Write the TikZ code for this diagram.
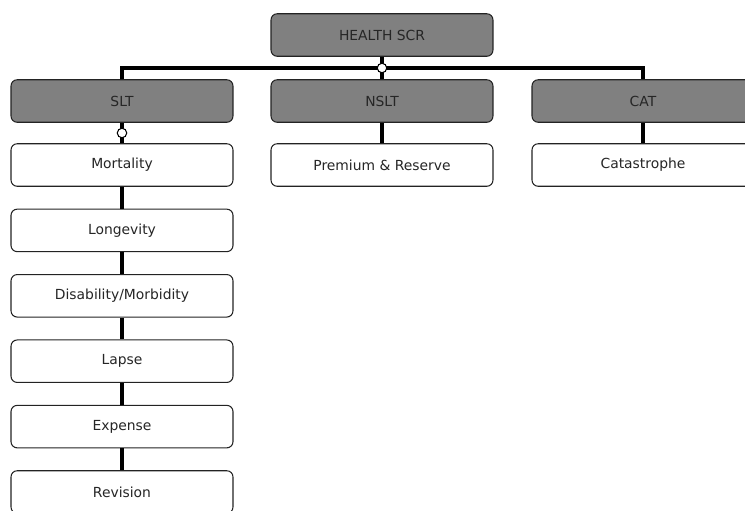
\documentclass[tikz,border=0pt]{standalone}
\usepackage{fontspec}
\setmainfont{DejaVu Sans}
\usetikzlibrary{positioning,calc}
\definecolor{boxgray}{RGB}{128,128,128}
\definecolor{edge}{RGB}{35,35,35}

\begin{document}
\begin{tikzpicture}[x=0.02cm,y=-0.02cm,
    box/.style={draw=edge,line width=0.6pt,rounded corners=3.5pt,
      minimum width=4.44cm,minimum height=0.85cm,
      font=\fontsize{7.9}{9}\selectfont,text=black!85},
    head/.style={box,fill=boxgray},
    leaf/.style={box,fill=white},
    link/.style={line width=2pt,black},
    knot/.style={circle,draw=black,fill=white,line width=0.6pt,
      inner sep=0pt,minimum size=0.19cm}]
    \useasboundingbox (0,0) rectangle (745,511);
    \clip (0,0) rectangle (745,511);
    % top level and the three modules
    \node[head] (health) at (382,35) {HEALTH SCR};
    \node[head] (slt) at (122,101) {SLT};
    \node[head] (nslt) at (382,101) {NSLT};
    \node[head] (cat) at (643,101) {CAT};
    \coordinate (bar) at (382,68);
    \draw[link] (slt.north) |- (bar) -| (cat.north);
    \draw[link] (health) -- (nslt);
    \node[knot] (hub) at (bar) {};
    % SLT sub-modules
    \foreach \i/\lbl in {1/Mortality,2/Longevity,3/{Disability/Morbidity},
      4/Lapse,5/Expense,6/Revision}{
      \node[leaf] (risk\i) at (122,{165+65.4*(\i-1)}) {\lbl};
    }
    \draw[link] (slt) -- (risk1);
    \node[knot] (sltknot) at ($(slt.south)!0.5!(risk1.north)$) {};
    \foreach \i [evaluate=\i as \j using int(\i-1)] in {2,...,6}
      \draw[link] (risk\j) -- (risk\i);
    % NSLT and CAT sub-modules
    \node[leaf] (prem) at (382,165) {Premium \& Reserve};
    \node[leaf] (catas) at (643,165) {Catastrophe};
    \draw[link] (nslt) -- (prem);
    \draw[link] (cat) -- (catas);
\end{tikzpicture}
\end{document}
